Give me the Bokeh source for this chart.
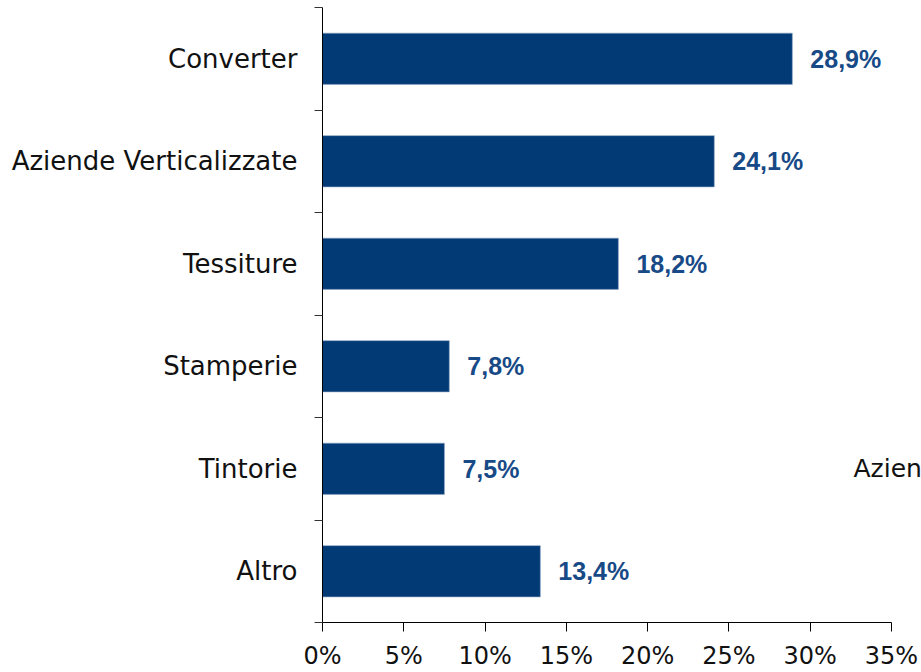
from bokeh.plotting import figure
from bokeh.models import ColumnDataSource, FixedTicker, LabelSet, Label, Range1d
from bokeh.core.properties import value
from bokeh.embed import file_html
from bokeh.resources import INLINE

categories = ["Converter", "Aziende Verticalizzate", "Tessiture", "Stamperie", "Tintorie", "Altro"]
values = [28.9, 24.1, 18.2, 7.8, 7.5, 13.4]
value_labels = ["28,9%", "24,1%", "18,2%", "7,8%", "7,5%", "13,4%"]
x_ticks = [0, 5, 10, 15, 20, 25, 30, 35]
x_tick_labels = ["0%", "5%", "10%", "15%", "20%", "25%", "30%", "35%"]
stray_text = "Azien"

# layout (canvas pixels)
W, H = 921, 672
left_border = 322
axis_end_px = 891          # where 35% sits on the canvas
frame_w = W - left_border
x_max = 35 * frame_w / (axis_end_px - left_border)

n = len(categories)
centers = [n - i - 0.5 for i in range(n)]
boundaries = list(range(n + 1))

src = ColumnDataSource(data=dict(y=centers, v=values, lab=value_labels, cat=categories))

p = figure(width=W, height=H, output_backend="svg", toolbar_location=None,
           x_range=Range1d(0, x_max), y_range=Range1d(0, n),
           min_border_left=left_border, min_border_right=0, min_border_top=7, min_border_bottom=49)
p.outline_line_color = None
p.xgrid.grid_line_color = None
p.ygrid.grid_line_color = None
p.background_fill_color = "white"

p.hbar(y="y", right="v", left=0, height=0.5, source=src,
       fill_color="#023A76", line_color="#8FA6C4", line_width=0.6)

labels = LabelSet(x="v", y="y", text="lab", source=src, x_offset=18,
                  text_baseline="middle", text_align="left",
                  text_font=value("Liberation Sans"), text_font_style="bold",
                  text_font_size="25px", text_color="#174A86")
p.add_layout(labels)

p.add_layout(Label(x=32.66, y=centers[categories.index("Tintorie")], text=stray_text,
                   text_baseline="middle", text_align="left", text_font="DejaVu Sans",
                   text_font_size="25px", text_color="#111111"))

# x axis
xa = p.xaxis[0]
xa.ticker = FixedTicker(ticks=x_ticks)
xa.bounds = (0, 35)
xa.major_label_overrides = {t: l for t, l in zip(x_ticks, x_tick_labels)}
xa.major_tick_out = 9
xa.major_tick_in = 0
xa.minor_tick_line_color = None
xa.axis_line_color = "black"
xa.major_tick_line_color = "black"
xa.major_label_text_font = "DejaVu Sans"
xa.major_label_text_font_size = "24px"
xa.major_label_text_color = "#111111"
xa.major_label_standoff = 10

# y axis
ya = p.yaxis[0]
ya.ticker = FixedTicker(ticks=centers, minor_ticks=boundaries)
ya.major_label_overrides = {c: cat for c, cat in zip(centers, categories)}
ya.major_tick_line_color = None
ya.major_tick_out = 0
ya.major_tick_in = 0
ya.minor_tick_out = 8
ya.minor_tick_in = 0
ya.minor_tick_line_color = "#333333"
ya.axis_line_color = "black"
ya.major_label_text_font = "DejaVu Sans"
ya.major_label_text_font_size = "26px"
ya.major_label_text_color = "#111111"
ya.major_label_standoff = 17

open("out.html", "w").write(file_html(p, INLINE))
